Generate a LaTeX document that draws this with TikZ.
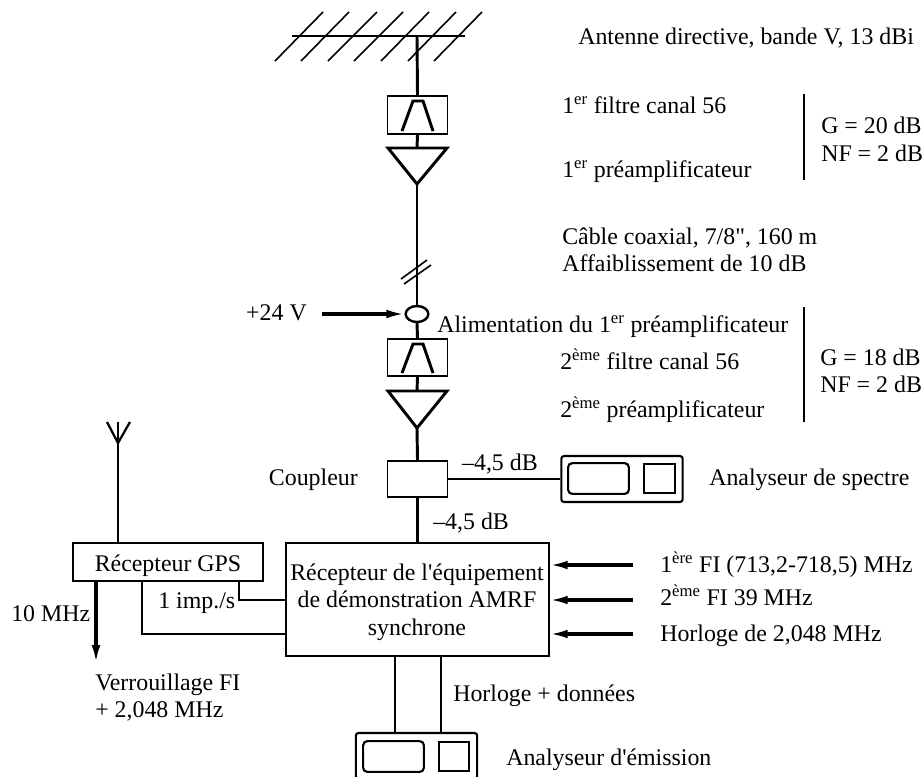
\documentclass[tikz,border=0pt]{standalone}
\usepackage{fontspec}
\setmainfont{Liberation Serif}[Ligatures=TeXOff]
\usepackage{tikz}
\usetikzlibrary{positioning,arrows.meta,calc,shapes.geometric}

\tikzset{
  txt/.style={anchor=base west,inner sep=0pt,font=\fontsize{17.9}{20.6}\selectfont},
  txtr/.style={txt,anchor=base east},
  wire/.style={line width=2.2pt},
  thinwire/.style={line width=0.9pt},
  feed/.style={line width=2.3pt,-{Latex[length=13.5pt,width=6.5pt]}},
  filtbox/.style={draw,line width=1.3pt,minimum width=45pt,minimum height=28pt,inner sep=0pt},
  plainbox/.style={draw,line width=1.3pt,inner sep=0pt,align=center,font=\fontsize{17.9}{20.6}\selectfont},
  analbox/.style={draw,line width=1.6pt,rounded corners=2pt,minimum width=91pt,minimum height=34.5pt,inner sep=0pt},
  screenbox/.style={draw,line width=1.6pt,rounded corners=3pt,minimum width=45.5pt,minimum height=23pt,inner sep=0pt},
  keybox/.style={draw,line width=1.3pt,minimum width=23pt,minimum height=22pt,inner sep=0pt},
}

\begin{document}
\begin{tikzpicture}[x=0.75pt,y=-0.75pt]
    \clip (0,0) rectangle (924,776);
    % main antenna
    \coordinate (antbar) at (417,36);
    \draw[wire] (292,36) -- (465,36);
    \foreach \x/\xx in {275/323, 301/349, 328/377, 354/403, 381/429, 408/456, 434/482} {
      \draw[line width=1.2pt] (\x,61) -- (\xx,12);
    }
    % first filter and preamp
    \node[filtbox] (filt1) at (417.5,115) {};
    \draw[wire] (402,131) -- (413,101) -- (423,101) -- (433,131);
    \coordinate (amp1in) at (417,148);
    \coordinate (amp1out) at (417,184);
    \draw[wire,line join=miter] (388,148) -- (447,148) -- (amp1out) -- cycle;
    \draw[wire] (antbar) -- (filt1.north);
    \draw[wire] (filt1.south) -- (amp1in);
    % feed point
    \node[draw,ellipse,line width=1.8pt,minimum width=17pt,minimum height=12pt,inner sep=0pt] (feedpt) at (417,314) {};
    \draw[wire] (amp1out) -- (feedpt.north);
    \draw[line width=1.2pt] (401,279) -- (427,260);
    \draw[line width=1.2pt] (404,284) -- (431,265);
    \coordinate (supply) at (322,314);
    \draw[feed] (supply) -- (feedpt.west);
    % second filter and preamp
    \node[filtbox] (filt2) at (417.5,357.5) {};
    \draw[wire] (402,373) -- (413,344) -- (423,344) -- (433,373);
    \coordinate (amp2in) at (417,391);
    \coordinate (amp2out) at (417,428);
    \draw[wire,line join=miter] (388,391) -- (447,391) -- (amp2out) -- cycle;
    \draw[wire] (feedpt.south) -- (filt2.north);
    \draw[wire] (filt2.south) -- (amp2in);
    % coupler and spectrum analyser
    \node[plainbox,minimum width=45pt,minimum height=27pt] (coupler) at (417.5,479) {};
    \draw[wire] (amp2out) -- (coupler.north);
    \node[analbox] (spectre) at (622,479) {};
    \node[screenbox] at (598.5,478.5) {};
    \node[keybox] at (659.5,478.5) {};
    \draw[wire] (coupler.east) -- (spectre.west);
    % receiver
    \node[plainbox,minimum width=197pt,minimum height=85pt] (recv) at (417.5,599.5) {};
    \node[plainbox,draw=none] (recvtxt) at (417,602) {R\'ecepteur de l'\'equipement\\de d\'emonstration AMRF\\synchrone};
    \draw[wire] (coupler.south) -- (recv.north);
    \coordinate (fi1) at (633,565);
    \coordinate (fi2) at (633,600);
    \coordinate (clk) at (633,634);
    \draw[feed] (fi1) -- (fi1 -| recv.east);
    \draw[feed] (fi2) -- (fi2 -| recv.east);
    \draw[feed] (clk) -- (clk -| recv.east);
    % GPS
    \node[plainbox,minimum width=142.5pt,text height=21pt,text depth=7.5pt] (gps) at (168,562) {R\'ecepteur GPS};
    \coordinate (gpsant) at (118,443);
    \draw[wire] (118,422) -- (gpsant |- gps.north);
    \draw[line width=1.7pt] (107,422) -- (gpsant) -- (130,422);
    \coordinate (lock) at (96,663);
    \draw[feed] (lock |- gps.south) -- (lock);
    \coordinate (imp) at (239,600);
    \coordinate (ref) at (142,634);
    \draw[thinwire] (imp |- gps.south) -- (imp) -- (imp -| recv.west);
    \draw[thinwire] (ref |- gps.south) -- (ref) -- (ref -| recv.west);
    % emission analyser
    \node[analbox] (emiss) at (416.5,756) {};
    \node[screenbox] at (393.5,756.5) {};
    \node[keybox] at (454,756.5) {};
    \coordinate (clka) at (395,733);
    \coordinate (clkb) at (441,733);
    \draw[wire] (clka |- recv.south) -- (clka);
    \draw[wire] (clkb |- recv.south) -- (clkb);
    % gain brackets
    \coordinate (gaina) at (804,94);
    \coordinate (gainb) at (804,307);
    \draw[wire] (gaina) -- (804,180);
    \draw[wire] (gainb) -- (804,422);
    % labels
    \node[txt] (lant) at (578,44) {Antenne directive, bande V, 13 dBi};
    \node[txt] (lfa) at (562,113) {1\textsuperscript{er} filtre canal 56};
    \node[txt] (lpa) at (562,177) {1\textsuperscript{er} pr\'eamplificateur};
    \node[txt] (lga) at (821,133) {G = 20 dB};
    \node[txt] (lna) at (821,161) {NF = 2 dB};
    \node[txt] (lcab) at (562,244) {C\^able coaxial, 7/8", 160 m};
    \node[txt] (laff) at (562,271) {Affaiblissement de 10 dB};
    \node[txtr] (lvolt) at (307,320) {+24 V};
    \node[txt] (lali) at (437,332) {Alimentation du 1\textsuperscript{er} pr\'eamplificateur};
    \node[txt] (lfb) at (560,369) {2\textsuperscript{\`eme} filtre canal 56};
    \node[txt] (lpb) at (560,417) {2\textsuperscript{\`eme} pr\'eamplificateur};
    \node[txt] (lgb) at (820,365) {G = 18 dB};
    \node[txt] (lnb) at (820,392) {NF = 2 dB};
    \node[txtr] (lcou) at (358,485) {Coupleur};
    \node[txtr] (lup) at (538,470) {–4,5 dB};
    \node[txt] (ldn) at (433,529) {–4,5 dB};
    \node[txt] (lspe) at (709,485) {Analyseur de spectre};
    \node[txt] (lfi) at (660,572) {1\textsuperscript{\`ere} FI (713,2-718,5) MHz};
    \node[txt] (lfj) at (660,605) {2\textsuperscript{\`eme} FI 39 MHz};
    \node[txt] (lclk) at (660,641) {Horloge de 2,048 MHz};
    \node[txt] (limp) at (158,608) {1 imp./s};
    \node[txt] (lten) at (11,621) {10 MHz};
    \node[txt] (lver) at (95,690) {Verrouillage FI};
    \node[txt] (lplus) at (95,717) {+ 2,048 MHz};
    \node[txt] (ldat) at (453,701) {Horloge + donn\'ees};
    \node[txt] (lemi) at (506,765) {Analyseur d'\'emission};
\end{tikzpicture}
\end{document}
